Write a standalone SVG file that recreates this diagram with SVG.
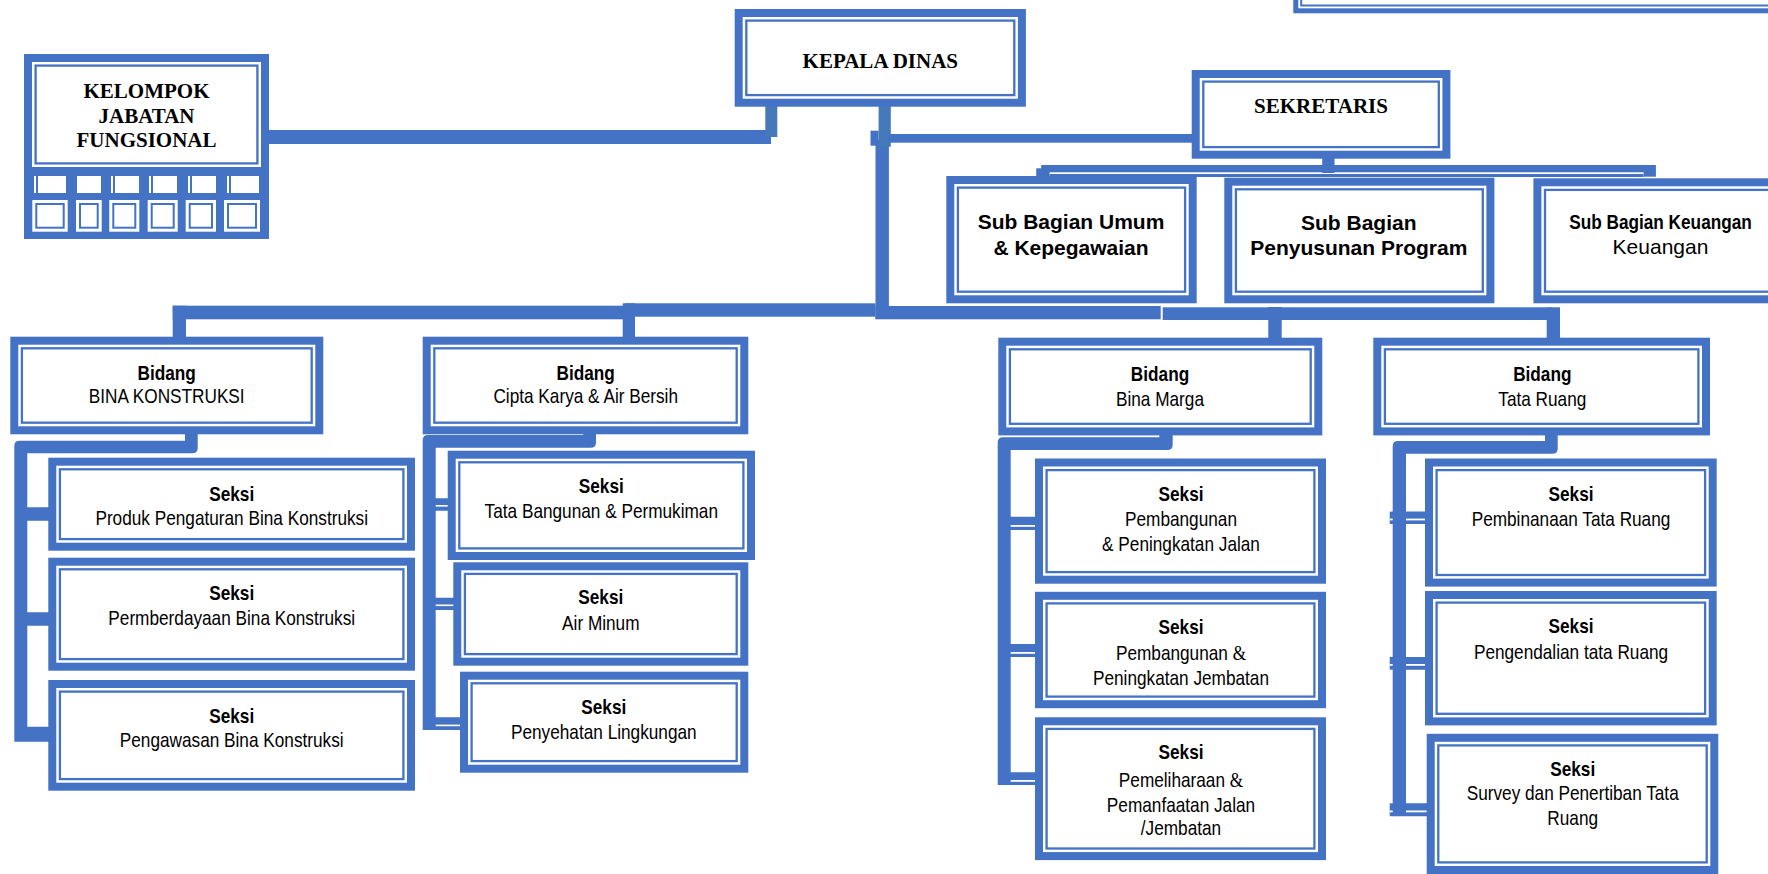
<svg xmlns="http://www.w3.org/2000/svg" width="1768" height="874" viewBox="0 0 1768 874">
<style>
.bo{fill:#fff;stroke:#4472C4;stroke-width:8}
.bi{fill:none;stroke:#4472C4;stroke-width:2.3}
.c{fill:#4472C4}
.cs{fill:#4679B9}
.wl{fill:#fff}
.tb{font-family:"Liberation Serif","Times New Roman",serif;font-weight:bold;font-size:21px;text-anchor:middle;fill:#000}
.ab{font-family:"Liberation Sans",Arial,sans-serif;font-weight:bold;font-size:21px;text-anchor:middle;fill:#000}
.ar{font-family:"Liberation Sans",Arial,sans-serif;font-size:21px;text-anchor:middle;fill:#000}
.amp{font-family:"Liberation Serif","Times New Roman",serif}
.gw{fill:#fff}
.gl{fill:none;stroke:#4472C4;stroke-width:2}
</style>
<rect width="1768" height="874" fill="#fff"/>

<g id="connectors">
  <rect class="c" x="269" y="130" width="502" height="14"/>
  <rect class="cs" x="765.3" y="100" width="12" height="37"/>
  <rect class="c" x="870.5" y="130.7" width="8.1" height="15"/>
  <rect class="c" x="875.5" y="140" width="13.4" height="179"/>
  <rect class="cs" x="878.6" y="100" width="12.2" height="46.7"/>
  <rect class="c" x="888" y="134" width="307" height="8.7"/>
  <rect class="c" x="1322.2" y="155" width="12.3" height="18"/>
  <rect class="c" x="1041.2" y="165" width="610.8" height="7.3"/>
  <rect class="c" x="1036.2" y="168.3" width="13.4" height="8.4"/>
  <rect class="c" x="1049.6" y="174" width="594" height="3"/>
  <rect class="c" x="1643.6" y="165" width="12.3" height="11.7"/>
  <rect class="c" x="172.7" y="305.7" width="452.3" height="13.6"/>
  <rect class="c" x="625" y="303.3" width="250.5" height="13.4"/>
  <rect class="c" x="875.5" y="306" width="285.2" height="13.3"/>
  <rect class="c" x="1162.7" y="307.3" width="389" height="12.7"/>
  <rect class="c" x="172.7" y="305.7" width="13.3" height="34"/>
  <rect class="c" x="622.7" y="303.3" width="12.3" height="36"/>
  <rect class="c" x="1268.3" y="307" width="13.4" height="34"/>
  <rect class="c" x="1546.7" y="307.3" width="13.3" height="34"/>
  <path class="c" d="M14.3,446 Q14.3,440.7 19.6,440.7 H185 V430 H197.7 V448 Q197.7,453.3 192.4,453.3 H27.3 V507.3 H50 V520.7 H27.3 V612.3 H50 V625.7 H27.3 V726.7 H50 V741.7 H14.3 Z"/>
  <path class="c" d="M422.7,440.3 Q422.7,435 428,435 H583.3 V430 H596 V442.4 Q596,447.7 590.7,447.7 H435.7 V498.3 H450 V510.7 H435.7 V597.7 H455 V610 H435.7 V717.3 H462 V730 H422.7 Z"/>
  <path class="c" d="M997.7,442.6 Q997.7,437.3 1003,437.3 H1159.3 V430 H1172.7 V444.7 Q1172.7,450 1167.4,450 H1010.7 V516.7 H1037 V529.9 H1010.7 V644.1 H1037 V656.9 H1010.7 V772.2 H1037 V785 H997.7 Z"/>
  <path class="c" d="M1392.7,446.2 Q1392.7,440.9 1398,440.9 H1545 V430 H1557.7 V448.4 Q1557.7,453.7 1552.4,453.7 H1406 V511.6 H1428 V524 H1406 V656.9 H1428 V669.7 H1406 V803.3 H1428 V816.2 H1392.7 Z"/>
  <rect class="c" x="1389.7" y="511.6" width="4" height="12.4"/>
  <rect class="c" x="1389.7" y="656.9" width="4" height="12.8"/>
  <rect class="c" x="1389.7" y="803.3" width="4" height="12.9"/>
  <rect class="wl" x="435.7" y="505" width="14" height="1.6"/>
  <rect class="wl" x="435.7" y="604.5" width="19" height="1.6"/>
  <rect class="wl" x="435.7" y="724.6" width="26" height="1.6"/>
  <rect class="wl" x="1010.7" y="525" width="26" height="1.8"/>
  <rect class="wl" x="1010.7" y="652" width="26" height="1.8"/>
  <rect class="wl" x="1010.7" y="780" width="26" height="1.8"/>
  <rect class="wl" x="1406" y="518.6" width="22" height="1.8"/>
  <rect class="wl" x="1406" y="664" width="22" height="1.8"/>
  <rect class="wl" x="1406" y="810.5" width="22" height="1.8"/>
  <rect class="wl" x="1389.7" y="518.6" width="3" height="1.8"/>
  <rect class="wl" x="1389.7" y="664" width="3" height="1.8"/>
  <rect class="wl" x="1389.7" y="810.5" width="3" height="1.8"/>
</g>

<g id="node-kelompok">
  <rect class="c" x="24" y="170" width="245" height="69"/>
  <rect class="gw" x="34" y="176" width="32" height="17"/><rect class="c" x="36" y="176" width="2" height="17"/>
  <rect class="gw" x="77" y="176" width="24" height="17"/>
  <rect class="gw" x="111" y="176" width="28" height="17"/><rect class="c" x="113" y="176" width="2" height="17"/>
  <rect class="gw" x="149" y="176" width="28" height="17"/><rect class="c" x="151" y="176" width="2" height="17"/>
  <rect class="gw" x="188" y="176" width="28" height="17"/><rect class="c" x="190" y="176" width="2" height="17"/>
  <rect class="gw" x="227" y="176" width="32" height="17"/><rect class="c" x="229" y="176" width="2" height="17"/>
  <rect class="gw" x="32.3" y="200" width="35.4" height="31.7"/><rect class="gl" x="36.3" y="204" width="27.4" height="23.7"/>
  <rect class="gw" x="76" y="200" width="25.7" height="31.7"/><rect class="gl" x="80" y="204" width="17.7" height="23.7"/>
  <rect class="gw" x="109.3" y="200" width="30" height="31.7"/><rect class="gl" x="113.3" y="204" width="22" height="23.7"/>
  <rect class="gw" x="147.7" y="200" width="30" height="31.7"/><rect class="gl" x="151.7" y="204" width="22" height="23.7"/>
  <rect class="gw" x="185.7" y="200" width="30.3" height="31.7"/><rect class="gl" x="189.7" y="204" width="22.3" height="23.7"/>
  <rect class="gw" x="224" y="200" width="36" height="31.7"/><rect class="gl" x="228" y="204" width="28" height="23.7"/>
  <rect class="bo" x="28" y="58" width="237" height="113"/>
  <rect class="bi" x="35.6" y="65.6" width="221.8" height="97.8"/>
  <text class="tb" x="146.5" y="98.3">KELOMPOK</text>
  <text class="tb" x="146.5" y="122.7">JABATAN</text>
  <text class="tb" x="146.5" y="146.7">FUNGSIONAL</text>
</g>

<g id="node-kepala">
  <rect class="bo" x="738.7" y="13" width="283.2" height="89.7"/>
  <rect class="bi" x="746.3" y="20.6" width="268" height="74.5"/>
  <text class="tb" x="880.3" y="68">KEPALA DINAS</text>
</g>

<g id="node-top-right">
  <rect class="bo" x="1295.8" y="-57.5" width="515" height="68.3" style="stroke-width:5"/>
  <rect class="bi" x="1301.2" y="-52" width="505" height="57.5" style="stroke-width:2"/>
</g>

<g id="node-sekretaris">
  <rect class="bo" x="1195.7" y="74" width="250.7" height="80.7"/>
  <rect class="bi" x="1203.3" y="81.6" width="235.5" height="65.5"/>
  <text class="tb" x="1321" y="113.3">SEKRETARIS</text>
</g>

<g id="node-sub-umum">
  <rect class="bo" x="950.3" y="180" width="242.4" height="119.3"/>
  <rect class="bi" x="957.9" y="187.6" width="227.2" height="104.1"/>
  <text class="ab" x="1071" y="229">Sub Bagian Umum</text>
  <text class="ab" x="1071" y="255">&amp; Kepegawaian</text>
</g>

<g id="node-sub-penyusunan">
  <rect class="bo" x="1228.3" y="181.7" width="262.1" height="117.6"/>
  <rect class="bi" x="1235.9" y="189.3" width="246.9" height="102.4"/>
  <text class="ab" x="1358.8" y="230">Sub Bagian</text>
  <text class="ab" x="1358.8" y="255">Penyusunan Program</text>
</g>

<g id="node-sub-keuangan">
  <rect class="bo" x="1537.4" y="182.3" width="246.2" height="117"/>
  <rect class="bi" x="1545" y="189.9" width="231" height="101.8"/>
  <g transform="translate(1660.5 0) scale(0.82 1)"><text class="ab" x="0" y="229.3">Sub Bagian Keuangan</text></g>
  <text class="ar" x="1660.5" y="254">Keuangan</text>
</g>

<g id="node-bidang-bina-konstruksi">
  <rect class="bo" x="14.3" y="340.7" width="305" height="89.6"/>
  <rect class="bi" x="21.9" y="348.3" width="289.8" height="74.4"/>
  <g transform="translate(166.7 0) scale(0.82 1)"><text class="ab" x="0" y="380">Bidang</text><text class="ar" x="0" y="403.3">BINA KONSTRUKSI</text></g>
</g>

<g id="node-bidang-cipta-karya">
  <rect class="bo" x="426.7" y="340.7" width="317.6" height="89.6"/>
  <rect class="bi" x="434.3" y="348.3" width="302.4" height="74.4"/>
  <g transform="translate(585.7 0) scale(0.82 1)"><text class="ab" x="0" y="380">Bidang</text><text class="ar" x="0" y="403.3">Cipta Karya &amp; Air Bersih</text></g>
</g>

<g id="node-bidang-bina-marga">
  <rect class="bo" x="1002.3" y="341.7" width="316" height="89.7"/>
  <rect class="bi" x="1009.9" y="349.3" width="300.8" height="74.5"/>
  <g transform="translate(1160 0) scale(0.82 1)"><text class="ab" x="0" y="381.3">Bidang</text><text class="ar" x="0" y="406.2">Bina Marga</text></g>
</g>

<g id="node-bidang-tata-ruang">
  <rect class="bo" x="1377.3" y="341.7" width="328.7" height="89.7"/>
  <rect class="bi" x="1384.9" y="349.3" width="313.5" height="74.5"/>
  <g transform="translate(1542.3 0) scale(0.82 1)"><text class="ab" x="0" y="381.3">Bidang</text><text class="ar" x="0" y="406.2">Tata Ruang</text></g>
</g>

<g id="node-seksi-produk">
  <rect class="bo" x="52.3" y="461.7" width="358.7" height="85"/>
  <rect class="bi" x="59.9" y="469.3" width="343.5" height="69.8"/>
  <g transform="translate(231.7 0) scale(0.82 1)"><text class="ab" x="0" y="501">Seksi</text><text class="ar" x="0" y="525">Produk Pengaturan Bina Konstruksi</text></g>
</g>

<g id="node-seksi-permberdayaan">
  <rect class="bo" x="52.3" y="561.7" width="358.7" height="105"/>
  <rect class="bi" x="59.9" y="569.3" width="343.5" height="89.8"/>
  <g transform="translate(231.7 0) scale(0.82 1)"><text class="ab" x="0" y="600">Seksi</text><text class="ar" x="0" y="625">Permberdayaan Bina Konstruksi</text></g>
</g>

<g id="node-seksi-pengawasan">
  <rect class="bo" x="52.3" y="684" width="358.7" height="102.7"/>
  <rect class="bi" x="59.9" y="691.6" width="343.5" height="87.5"/>
  <g transform="translate(231.7 0) scale(0.82 1)"><text class="ab" x="0" y="723.3">Seksi</text><text class="ar" x="0" y="746.7">Pengawasan Bina Konstruksi</text></g>
</g>

<g id="node-seksi-tata-bangunan">
  <rect class="bo" x="451.7" y="454.7" width="299.3" height="101.3"/>
  <rect class="bi" x="459.3" y="462.3" width="284.1" height="86.1"/>
  <g transform="translate(601.3 0) scale(0.82 1)"><text class="ab" x="0" y="493.3">Seksi</text><text class="ar" x="0" y="518.3">Tata Bangunan &amp; Permukiman</text></g>
</g>

<g id="node-seksi-air-minum">
  <rect class="bo" x="457.3" y="566.3" width="287" height="95.4"/>
  <rect class="bi" x="464.9" y="573.9" width="271.8" height="80.2"/>
  <g transform="translate(600.8 0) scale(0.82 1)"><text class="ab" x="0" y="604.3">Seksi</text><text class="ar" x="0" y="630">Air Minum</text></g>
</g>

<g id="node-seksi-penyehatan">
  <rect class="bo" x="464" y="675.7" width="280.3" height="93"/>
  <rect class="bi" x="471.6" y="683.3" width="265.1" height="77.8"/>
  <g transform="translate(603.8 0) scale(0.82 1)"><text class="ab" x="0" y="714.3">Seksi</text><text class="ar" x="0" y="739.3">Penyehatan Lingkungan</text></g>
</g>

<g id="node-seksi-pembangunan-jalan">
  <rect class="bo" x="1039" y="462.5" width="283" height="117.2"/>
  <rect class="bi" x="1046.6" y="470.1" width="267.8" height="102"/>
  <g transform="translate(1181 0) scale(0.82 1)"><text class="ab" x="0" y="501.3">Seksi</text><text class="ar" x="0" y="525.9">Pembangunan</text><text class="ar" x="0" y="550.8">&amp; Peningkatan Jalan</text></g>
</g>

<g id="node-seksi-pembangunan-jembatan">
  <rect class="bo" x="1039" y="595.8" width="283" height="108.4"/>
  <rect class="bi" x="1046.6" y="603.4" width="267.8" height="93.2"/>
  <g transform="translate(1181 0) scale(0.82 1)"><text class="ab" x="0" y="633.9">Seksi</text><text class="ar" x="0" y="659.9">Pembangunan <tspan class="amp">&amp;</tspan></text><text class="ar" x="0" y="685.1">Peningkatan Jembatan</text></g>
</g>

<g id="node-seksi-pemeliharaan">
  <rect class="bo" x="1039" y="721.3" width="283" height="134.8"/>
  <rect class="bi" x="1046.6" y="728.9" width="267.8" height="119.6"/>
  <g transform="translate(1181 0) scale(0.82 1)"><text class="ab" x="0" y="759.4">Seksi</text><text class="ar" x="0" y="786.9">Pemeliharaan <tspan class="amp">&amp;</tspan></text><text class="ar" x="0" y="811.8">Pemanfaatan Jalan</text><text class="ar" x="0" y="835.2">/Jembatan</text></g>
</g>

<g id="node-seksi-pembinanaan">
  <rect class="bo" x="1429" y="462.5" width="283.7" height="120.1"/>
  <rect class="bi" x="1436.6" y="470.1" width="268.5" height="104.9"/>
  <g transform="translate(1571 0) scale(0.82 1)"><text class="ab" x="0" y="501.3">Seksi</text><text class="ar" x="0" y="526.2">Pembinanaan Tata Ruang</text></g>
</g>

<g id="node-seksi-pengendalian">
  <rect class="bo" x="1429" y="595" width="283.7" height="126.4"/>
  <rect class="bi" x="1436.6" y="602.6" width="268.5" height="111.2"/>
  <g transform="translate(1571 0) scale(0.82 1)"><text class="ab" x="0" y="633.1">Seksi</text><text class="ar" x="0" y="658.7">Pengendalian tata Ruang</text></g>
</g>

<g id="node-seksi-survey">
  <rect class="bo" x="1430.7" y="737.8" width="283.6" height="132.2"/>
  <rect class="bi" x="1438.3" y="745.4" width="268.4" height="117"/>
  <g transform="translate(1572.7 0) scale(0.82 1)"><text class="ab" x="0" y="775.9">Seksi</text><text class="ar" x="0" y="800.4">Survey dan Penertiban Tata</text><text class="ar" x="0" y="825.3">Ruang</text></g>
</g>
</svg>
